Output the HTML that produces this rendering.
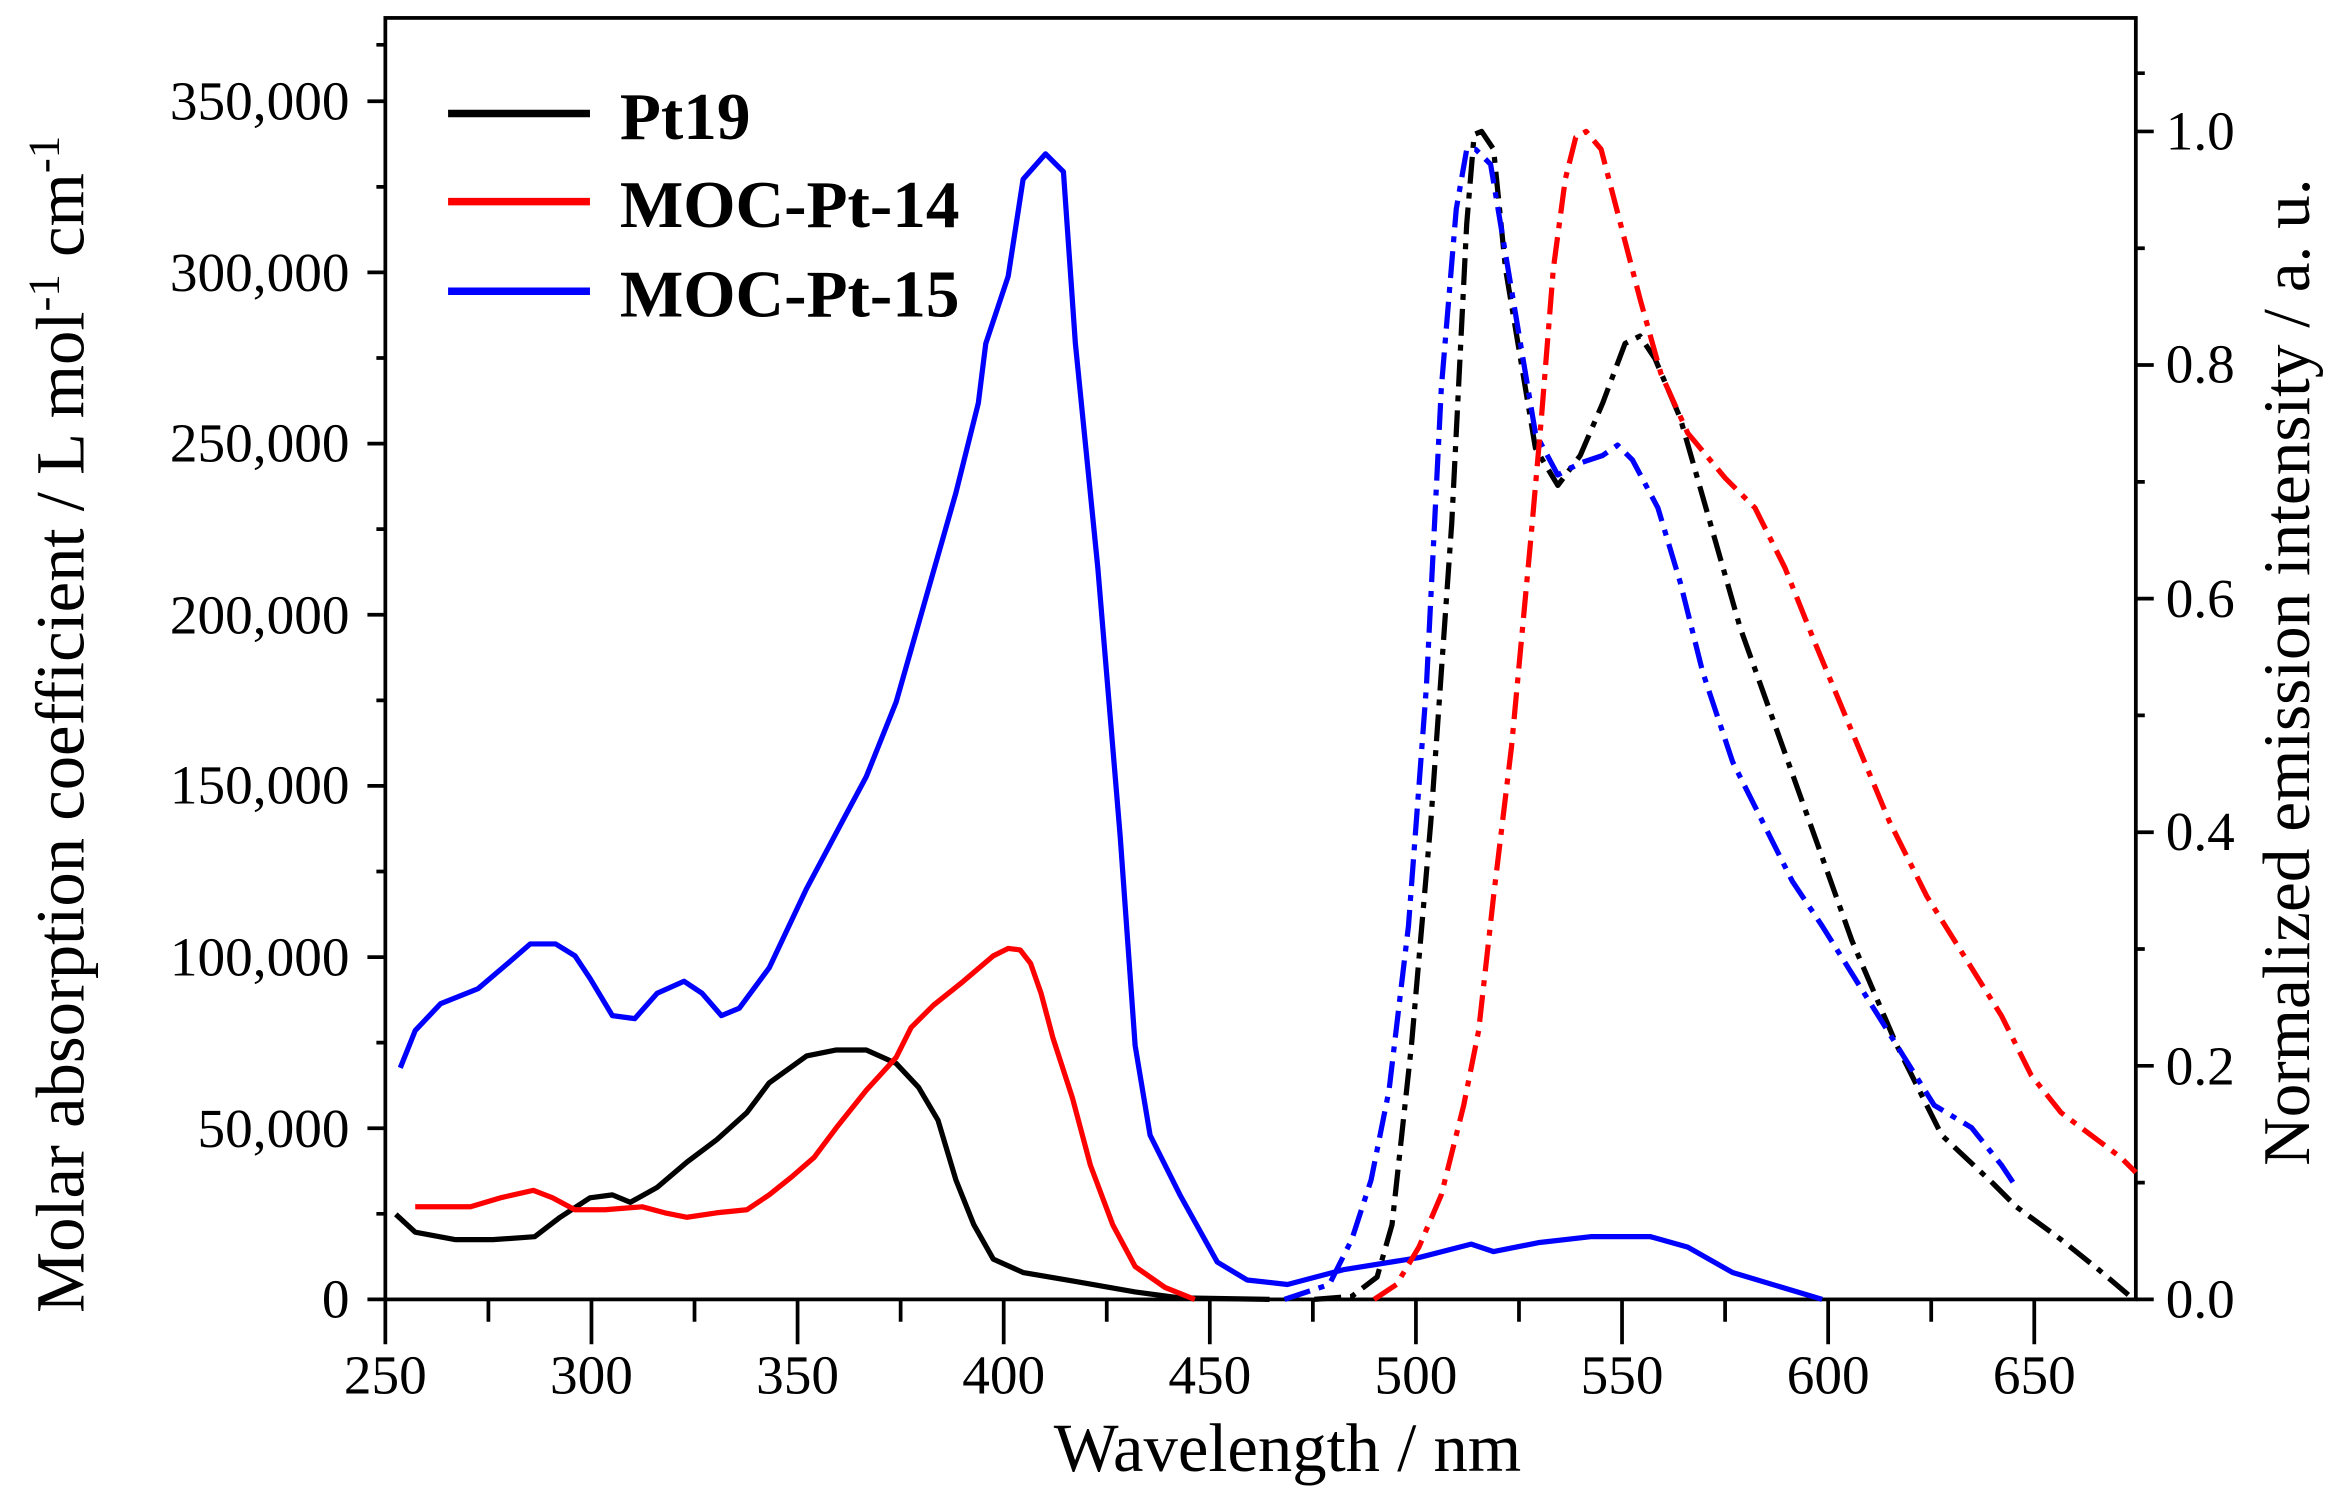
<!DOCTYPE html>
<html><head><meta charset="utf-8"><style>html,body{margin:0;padding:0;background:#fff}svg{display:block}</style></head><body>
<svg width="2330" height="1497" viewBox="0 0 1560 1002.3" preserveAspectRatio="none" xmlns="http://www.w3.org/2000/svg" font-family="'Liberation Serif',serif">
<rect width="1560" height="1003" fill="#fff"/>
<g stroke="#000" stroke-width="2.5" fill="none">
<rect x="258" y="12" width="1172" height="858"/>
<path d="M258 870v30M396 870v30M534 870v30M672 870v30M810 870v30M948 870v30M1086 870v30M1224 870v30M1362 870v30
M327 870v15M465 870v15M603 870v15M741 870v15M879 870v15M1017 870v15M1155 870v15M1293 870v15"/>
<path d="M258 870h-12M258 755.4h-12M258 640.8h-12M258 526.2h-12M258 411.6h-12M258 297h-12M258 182.4h-12M258 67.8h-12
M258 812.7h-6M258 698.1h-6M258 583.5h-6M258 468.9h-6M258 354.3h-6M258 239.7h-6M258 125.1h-6M258 30h-6"/>
<path d="M1430 870h12M1430 713.6h12M1430 557.2h12M1430 400.8h12M1430 244.4h12M1430 88h12
M1430 791.8h6M1430 635.4h6M1430 479h6M1430 322.6h6M1430 166.2h6M1430 49h6"/>
</g>
<g font-size="37" fill="#000">
<g text-anchor="middle">
<text x="258" y="933">250</text><text x="396" y="933">300</text><text x="534" y="933">350</text><text x="672" y="933">400</text><text x="810" y="933">450</text><text x="948" y="933">500</text><text x="1086" y="933">550</text><text x="1224" y="933">600</text><text x="1362" y="933">650</text>
</g>
<g text-anchor="end">
<text x="234" y="882">0</text><text x="234" y="768">50,000</text><text x="234" y="653">100,000</text><text x="234" y="538">150,000</text><text x="234" y="424">200,000</text><text x="234" y="309">250,000</text><text x="234" y="195">300,000</text><text x="234" y="80">350,000</text>
</g>
<g>
<text x="1450" y="882">0.0</text><text x="1450" y="726">0.2</text><text x="1450" y="569">0.4</text><text x="1450" y="413">0.6</text><text x="1450" y="256">0.8</text><text x="1450" y="100">1.0</text>
</g>
</g>
<text x="862" y="985" font-size="46" text-anchor="middle">Wavelength / nm</text>
<text transform="translate(56,485) rotate(-90)" font-size="46" text-anchor="middle">Molar absorption coefficient / L mol<tspan font-size="30" dy="-17">-1</tspan><tspan dy="17"> cm</tspan><tspan font-size="30" dy="-17">-1</tspan></text>
<text transform="translate(1546,450) rotate(-90)" font-size="45" text-anchor="middle">Normalized emission intensity / a. u.</text>
<g stroke-width="5">
<line x1="300" y1="76" x2="395" y2="76" stroke="#000"/>
<line x1="300" y1="135" x2="395" y2="135" stroke="#f00"/>
<line x1="300" y1="195" x2="395" y2="195" stroke="#00f"/>
</g>
<g font-size="45" font-weight="bold">
<text x="415" y="93">Pt19</text><text x="415" y="152">MOC-Pt-14</text><text x="415" y="212">MOC-Pt-15</text>
</g>
<g fill="none" stroke-width="3.5" stroke-linejoin="round">
<polyline stroke="#000" points="265,813 278,825 305,830 330,830 358,828 375,815 395,802 410,800 422,805 440,795 460,778 480,763 500,745 515,725 540,707 560,703 580,703 600,712 615,728 628,750 640,790 652,820 665,843 685,852 720,858 760,865 790,869 850,870"/>
<polyline stroke="#f00" points="278,808 300,808 315,808 335,802 357,797 370,802 385,810 405,810 430,808 445,812 460,815 480,812 500,810 515,800 530,788 545,775 560,755 580,730 600,708 610,688 625,673 645,657 665,640 675,635 683,636 690,645 697,665 705,695 718,735 730,780 745,820 760,848 780,862 800,870"/>
<polyline stroke="#00f" points="268,715 278,690 295,672 320,662 340,645 355,632 372,632 385,640 395,655 410,680 425,682 440,665 458,657 470,665 483,680 495,675 515,648 540,595 565,548 580,520 600,470 620,400 640,330 655,270 660,230 675,185 685,120 700,103 712,115 720,230 735,380 750,560 760,700 770,760 790,800 815,845 835,857 862,860 900,850 950,842 985,833 1000,838 1030,832 1065,828 1105,828 1130,835 1160,852 1220,870"/>
<g stroke-dasharray="18,6,4,6">
<polyline stroke="#000" points="880,870 905,868 922,855 932,820 945,700 958,550 972,350 982,150 987,90 992,88 1000,100 1008,180 1018,240 1028,300 1043,325 1058,305 1073,270 1088,230 1098,225 1108,240 1125,280 1145,350 1165,420 1190,490 1215,560 1240,630 1270,700 1300,760 1334,792 1350,808 1380,830 1405,850 1425,867"/>
<polyline stroke="#00f" points="860,870 890,860 905,830 918,790 930,730 943,620 955,460 965,260 975,140 982,100 988,100 998,110 1008,170 1018,230 1028,290 1043,318 1058,310 1073,305 1083,298 1093,308 1110,340 1125,390 1140,450 1160,510 1180,550 1200,590 1220,620 1245,660 1270,700 1295,740 1320,755 1340,780 1350,795"/>
<polyline stroke="#f00" points="920,870 935,860 950,835 965,800 980,740 990,690 1000,600 1012,500 1025,360 1032,280 1040,180 1048,120 1055,92 1062,88 1072,100 1085,150 1098,200 1112,250 1130,290 1155,320 1175,340 1195,380 1215,430 1240,490 1265,550 1290,600 1315,640 1340,680 1360,720 1380,745 1400,760 1420,775 1430,785"/>
</g>
</g>
</svg>
</body></html>
